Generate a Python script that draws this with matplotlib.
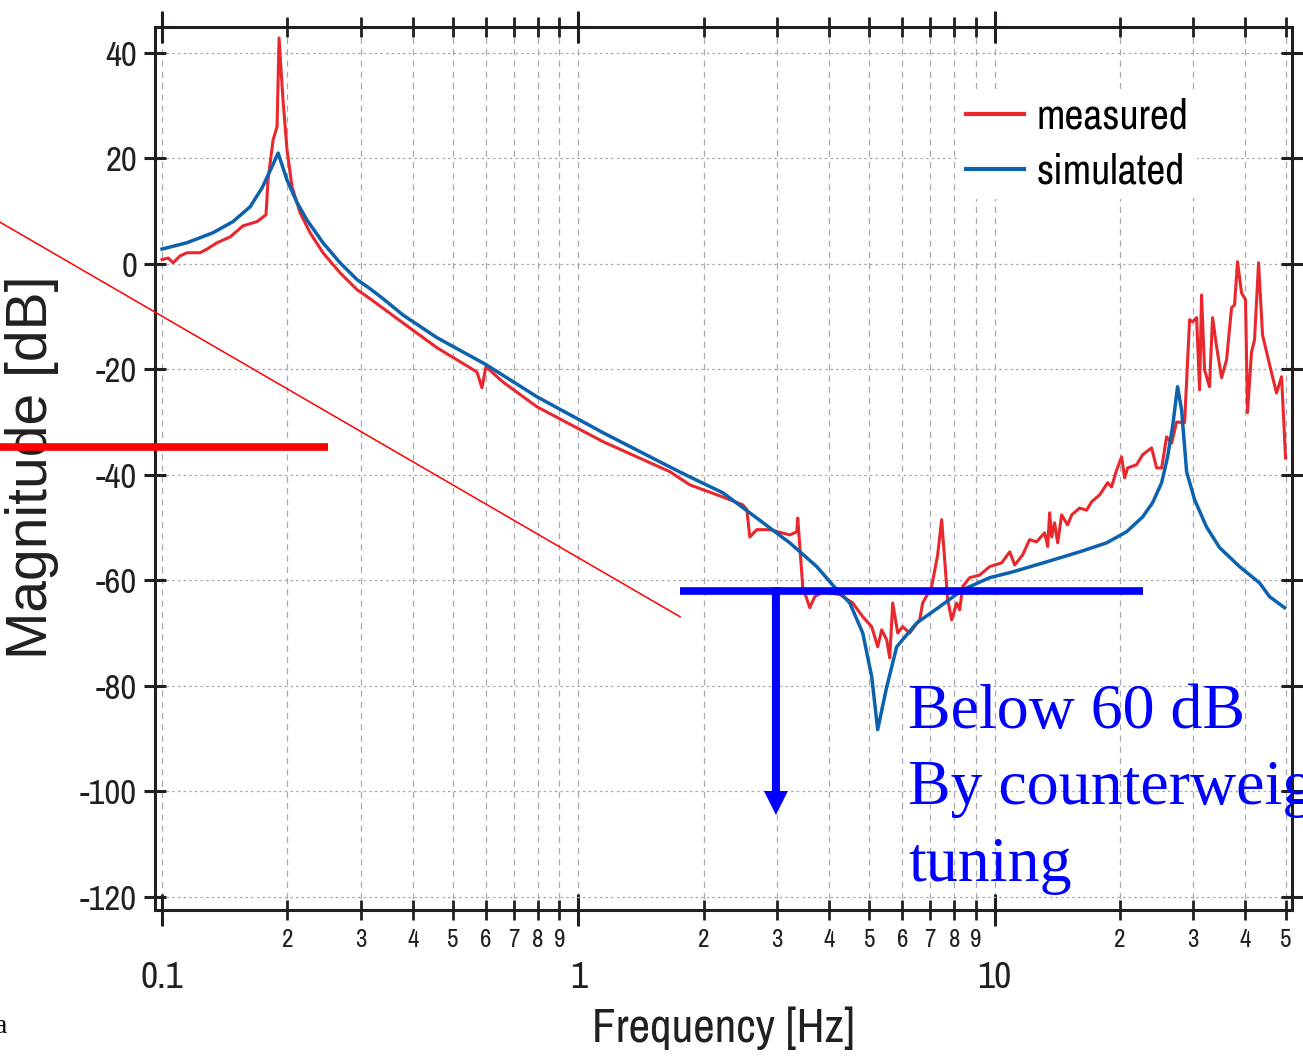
import matplotlib
matplotlib.use('Agg')
import matplotlib.pyplot as plt
from matplotlib import font_manager
from matplotlib.lines import Line2D
from matplotlib.patches import FancyArrowPatch, ArrowStyle
from matplotlib.ticker import FixedLocator, FixedFormatter

# measured frequency response (Hz, dB)
meas_f = [0.100, 0.1034, 0.1063, 0.1105, 0.1148, 0.1234, 0.1282, 0.1356, 0.1457, 0.1565,
          0.1691, 0.1777, 0.1797, 0.1848, 0.1889, 0.1910, 0.1952, 0.1996, 0.2052, 0.2145,
          0.2267, 0.2435, 0.2676, 0.2940, 0.3157, 0.379, 0.4574, 0.5706, 0.5867, 0.5998,
          0.6589, 0.7951, 1.145, 1.658, 1.852, 2.223, 2.483, 2.539, 2.581, 2.683,
          2.883, 3.220, 3.347, 3.365, 3.459, 3.596, 3.697, 3.864, 4.245, 4.561,
          4.821, 5.066, 5.236, 5.354, 5.504, 5.596, 5.690, 5.849, 6.013, 6.250,
          6.604, 6.715, 7.057, 7.295, 7.458, 7.585, 7.712, 7.884, 8.106, 8.241,
          8.380, 8.710, 9.204, 9.727, 10.39, 10.87, 11.17, 11.67, 12.13, 12.61,
          13.18, 13.41, 13.55, 13.71, 13.93, 14.17, 14.48, 14.97, 15.31, 16.0,
          16.63, 17.10, 17.87, 18.68, 19.09, 19.63, 20.18, 20.52, 20.86, 21.92,
          22.66, 23.82, 24.49, 25.18, 25.88, 26.61, 27.35, 28.59, 29.39, 29.88,
          30.55, 31.06, 31.40, 31.93, 32.81, 33.37, 34.12, 35.08, 36.06, 37.07,
          37.69, 38.31, 39.17, 40.04, 40.49, 41.40, 42.09, 43.04, 44.0, 45.74,
          47.54, 48.88, 49.97]
meas_db = [0.8, 1.1, 0.2, 1.5, 2.1, 2.1, 2.8, 4.0, 5.1, 7.2,
           8.0, 9.3, 15.9, 23.5, 26.0, 42.8, 31.1, 21.6, 14.6, 9.7,
           5.9, 2.1, -1.7, -4.9, -6.6, -11.2, -15.9, -20.5, -23.5, -19.5,
           -22.4, -27.1, -33.7, -39.4, -41.9, -44.2, -45.7, -46.6, -51.8, -50.4,
           -50.4, -51.4, -50.8, -48.2, -61.2, -65.2, -63.1, -62.2, -62.7, -64.3,
           -66.9, -68.8, -72.6, -69.4, -71.3, -74.7, -64.3, -70.0, -68.8, -70.0,
           -67.5, -64.3, -61.2, -55.2, -48.5, -56.1, -63.7, -67.5, -64.3, -65.6,
           -61.2, -59.5, -59.0, -57.4, -56.7, -54.6, -57.1, -55.2, -52.3, -52.7,
           -51.0, -53.6, -47.2, -51.8, -49.1, -52.9, -47.6, -49.5, -47.6, -46.3,
           -46.7, -45.1, -43.8, -41.5, -42.3, -39.1, -36.6, -40.6, -38.7, -38.1,
           -36.2, -34.9, -38.7, -38.7, -32.8, -34.0, -30.0, -30.1, -10.6, -11.0,
           -10.2, -23.9, -5.9, -20.1, -23.3, -10.2, -15.7, -21.6, -18.2, -8.3,
           -7.8, 0.4, -5.5, -6.8, -28.2, -16.7, -14.4, 0.2, -13.5, -19.1,
           -24.5, -21.4, -36.8]

# simulated frequency response (Hz, dB)
sim_f = [0.100, 0.1148, 0.1326, 0.148, 0.1627, 0.1739, 0.1837, 0.1900, 0.1996, 0.211,
         0.2229, 0.2435, 0.2676, 0.294, 0.3157, 0.3393, 0.379, 0.4574, 0.5998, 0.7951,
         1.145, 1.658, 1.852, 2.223, 2.683, 3.220, 3.738, 4.083, 4.487, 4.821,
         5.066, 5.236, 5.504, 5.817, 6.496, 7.376, 8.380, 9.727, 11.05, 13.33,
         16.0, 18.57, 20.74, 22.66, 23.95, 25.18, 26.02, 26.75, 27.50, 28.12,
         28.91, 30.21, 32.28, 34.69, 38.74, 43.28, 45.74, 49.70]
sim_db = [2.8, 4.0, 5.9, 8.0, 10.8, 14.4, 18.4, 21.0, 15.9, 11.6,
          8.3, 4.0, 0.2, -3.0, -4.7, -6.6, -9.7, -14.0, -19.1, -25.2,
          -32.0, -38.5, -40.4, -43.4, -48.2, -52.9, -57.4, -60.9, -64.3, -70.0,
          -78.3, -88.3, -80.2, -72.6, -68.1, -65.0, -61.8, -59.5, -58.4, -56.5,
          -54.6, -52.9, -50.8, -48.0, -45.3, -41.5, -36.6, -30.9, -23.3, -27.7,
          -39.4, -44.7, -49.9, -53.8, -57.4, -60.5, -63.1, -65.2]

x_major = [0.1, 1, 10]
x_major_labels = ['0.1', '1', '10']
x_minor = [0.2, 0.3, 0.4, 0.5, 0.6, 0.7, 0.8, 0.9,
           2, 3, 4, 5, 6, 7, 8, 9, 20, 30, 40, 50]
x_minor_labels = ['2', '3', '4', '5', '6', '7', '8', '9',
                  '2', '3', '4', '5', '6', '7', '8', '9', '2', '3', '4', '5']
y_ticks = [-120, -100, -80, -60, -40, -20, 0, 20, 40]

installed = set(f.name for f in font_manager.fontManager.ttflist)

def pick(cands):
    for c in cands:
        if c in installed:
            return c
    return 'DejaVu Sans'

narrow = pick(['Liberation Sans Narrow', 'Arial Narrow', 'Archivo Narrow', 'Roboto Condensed',
               'PT Sans Narrow', 'Sofia Sans Condensed', 'Fira Sans Condensed',
               'IBM Plex Sans Condensed', 'Encode Sans Condensed', 'Pragati Narrow',
               'Liberation Sans'])
sans = pick(['Liberation Sans', 'Arimo', 'Roboto'])
serif = pick(['Liberation Serif', 'Tinos', 'DejaVu Serif'])

red = '#e8282c'
blue = '#0d62ad'
dark = '#231f20'

fig = plt.figure(figsize=(13.03, 10.58), dpi=100)
ax = fig.add_axes([0.119, 0.1399, 0.8726, 0.8346])

ax.plot(meas_f, meas_db, color=red, lw=2.2, label='measured', zorder=3)
ax.plot(sim_f, sim_db, color=blue, lw=2.5, label='simulated', zorder=4)

ax.set_xscale('log')
ax.set_xlim(0.0962, 51.8)
ax.set_ylim(-122.5, 44.9)

ax.xaxis.set_major_locator(FixedLocator(x_major))
ax.xaxis.set_major_formatter(FixedFormatter(x_major_labels))
ax.xaxis.set_minor_locator(FixedLocator(x_minor))
ax.xaxis.set_minor_formatter(FixedFormatter(x_minor_labels))
ax.set_yticks(y_ticks)
ax.set_yticklabels([str(v) for v in y_ticks])

ax.tick_params(axis='x', which='major', direction='inout', length=23, width=2.2,
               top=True, labelsize=27, pad=25, colors=dark)
ax.tick_params(axis='x', which='minor', direction='inout', length=14, width=2.0,
               top=True, labelsize=18, pad=6, colors=dark)
ax.tick_params(axis='y', which='major', direction='inout', length=16, width=2.2,
               right=True, labelsize=25, pad=5, colors=dark)
for lab in ax.get_xticklabels(which='both') + ax.get_yticklabels():
    lab.set_family(narrow)

for s in ax.spines.values():
    s.set_linewidth(2.2)
    s.set_color(dark)

ax.set_axisbelow(True)
ax.grid(True, which='major', axis='y', linestyle=(0, (2, 2.5)), color='#a4a8ac', lw=0.9)
ax.grid(True, which='both', axis='x', linestyle=(0, (5, 4)), color='#a8acb0', lw=0.9)

leg = ax.legend(loc='upper left', bbox_to_anchor=(0.706, 0.93), frameon=True,
                prop={'family': narrow, 'size': 30}, handlelength=1.4,
                handletextpad=0.3, labelspacing=0.42, borderpad=0.2, borderaxespad=0)
leg.get_frame().set_facecolor('white')
leg.get_frame().set_edgecolor('none')
leg.get_frame().set_alpha(1)
leg.set_zorder(5)
for h in leg.get_lines():
    h.set_linewidth(3)

fig.text(0.0246, 0.5586, 'Magnitude [dB]', rotation=90, ha='center', va='center',
         fontsize=41, family=sans, color=dark)
fig.text(0.555, 0.0284, 'Frequency [Hz]', ha='center', va='center',
         fontsize=34, family=narrow, color=dark)
fig.text(-0.004, 0.03, 'a', ha='left', va='center', fontsize=20, family=serif, color='black')

# slide annotations drawn over the chart
fig.add_artist(Line2D([0.0, 0.522], [0.790, 0.417], transform=fig.transFigure,
                      color='red', lw=1.1, zorder=10))
fig.add_artist(Line2D([0.0, 0.2517], [0.5775, 0.5775], transform=fig.transFigure,
                      color='red', lw=5.5, solid_capstyle='butt', zorder=10))
fig.add_artist(Line2D([0.522, 0.877], [0.4414, 0.4414], transform=fig.transFigure,
                      color='blue', lw=5.5, solid_capstyle='butt', zorder=10))
fig.add_artist(FancyArrowPatch((0.5955, 0.4450), (0.5955, 0.2297), transform=fig.transFigure,
                               arrowstyle=ArrowStyle('simple', head_length=0.48,
                                                     head_width=0.48, tail_width=0.16),
                               mutation_scale=36, lw=0, color='blue',
                               shrinkA=0, shrinkB=0, zorder=10))
fig.text(0.697, 0.3535, 'Below 60 dB\nBy counterweight\ntuning', ha='left', va='top',
         fontsize=46, family=serif, color='blue', linespacing=1.42, zorder=10)

fig.savefig('out.png', dpi=100)
